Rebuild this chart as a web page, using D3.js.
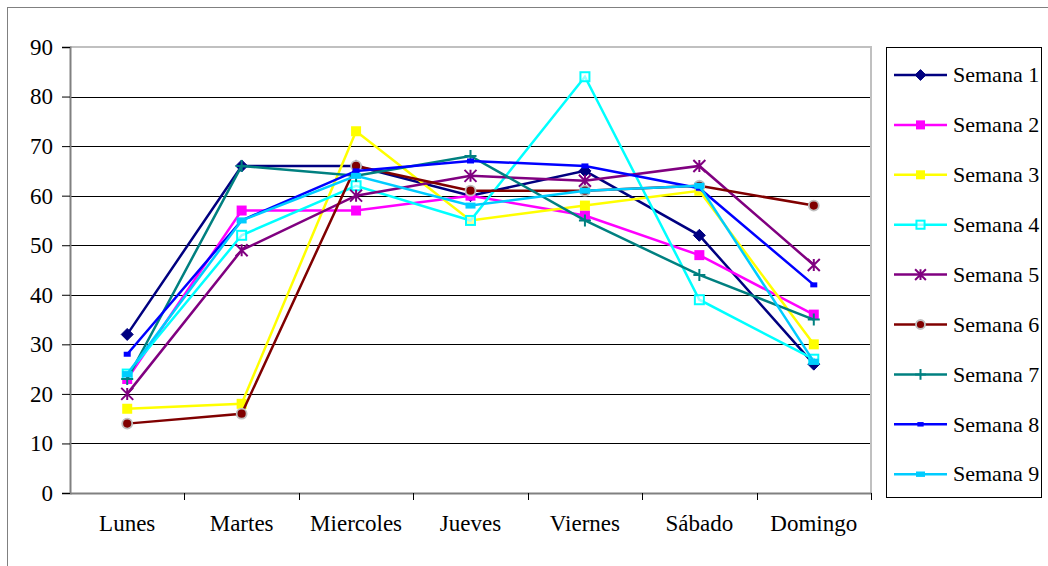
<!DOCTYPE html>
<html>
<head>
<meta charset="utf-8">
<script src="https://cdn.jsdelivr.net/npm/d3@7"></script>
<style>
  html, body { margin: 0; padding: 0; background: #fff; }
  svg { display: block; }
  svg text { font-family: "Liberation Serif", "Times New Roman", Tinos, Times, "DejaVu Serif", serif !important; fill: #000; }
</style>
</head>
<body>
<svg id="chart" width="1048" height="566"></svg>
<script>
const categories = ["Lunes", "Martes", "Miercoles", "Jueves", "Viernes", "Sábado", "Domingo"];
const yTicks = [0, 10, 20, 30, 40, 50, 60, 70, 80, 90];
const seriesNames = ["Semana 1", "Semana 2", "Semana 3", "Semana 4", "Semana 5", "Semana 6", "Semana 7", "Semana 8", "Semana 9"];
const semana1 = [32, 66, 66, 60, 65, 52, 26];
const semana2 = [23, 57, 57, 60, 56, 48, 36];
const semana3 = [17, 18, 73, 55, 58, 61, 30];
const semana4 = [24, 52, 62, 55, 84, 39, 27];
const semana5 = [20, 49, 60, 64, 63, 66, 46];
const semana6 = [14, 16, 66, 61, 61, 62, 58];
const semana7 = [23, 66, 64, 68, 55, 44, 35];
const semana8 = [28, 55, 65, 67, 66, 61.5, 42];
const semana9 = [24, 55, 64, 58, 61, 62, 26.5];
const seriesValues = [semana1, semana2, semana3, semana4, semana5, semana6, semana7, semana8, semana9];
const seriesColors = ["#000080", "#FF00FF", "#FFFF00", "#00FFFF", "#800080", "#800000", "#008080", "#0000FF", "#00CCFF"];
const seriesMarkers = ["diamond", "square", "square", "openSquare", "asterisk", "circle", "plus", "dash", "bar"];

const FONT = '"Liberation Serif", "Times New Roman", Tinos, Times, "DejaVu Serif", serif';
const svg = d3.select("#chart");

// outer chart border
svg.append("rect").attr("x", 7.5).attr("y", 7.5).attr("width", 1060).attr("height", 600)
  .attr("fill", "none").attr("stroke", "#808080").attr("stroke-width", 1);

const x = d3.scaleBand().domain(categories).range([70, 871]);
const y = d3.scaleLinear().domain([0, 90]).range([493, 47]);
const cx = c => x(c) + x.bandwidth() / 2;

// gridlines
svg.append("g").selectAll("line").data(yTicks.filter(v => v > 0 && v < 90)).join("line")
  .attr("x1", 70).attr("x2", 871)
  .attr("y1", d => Math.round(y(d)) + 0.5).attr("y2", d => Math.round(y(d)) + 0.5)
  .attr("stroke", "#000").attr("stroke-width", 1);

// plot-area border (top and right)
svg.append("line").attr("x1", 70).attr("x2", 872).attr("y1", y(90)).attr("y2", y(90))
  .attr("stroke", "#c0c0c0").attr("stroke-width", 2);
svg.append("line").attr("x1", 871).attr("x2", 871).attr("y1", y(90)).attr("y2", y(0))
  .attr("stroke", "#c0c0c0").attr("stroke-width", 2);

// y axis
const yAxis = svg.append("g").attr("transform", "translate(70,0)")
  .call(d3.axisLeft(y).tickValues(yTicks).tickSize(8).tickPadding(9).tickFormat(d3.format("d")))
  .attr("font-family", FONT).attr("font-size", 23);
yAxis.select(".domain").attr("stroke", "#808080").attr("stroke-width", 2);
yAxis.selectAll(".tick line").attr("stroke", "#000").attr("stroke-width", 1);

// x axis
const xAxis = svg.append("g").attr("transform", `translate(0,${y(0)})`)
  .call(d3.axisBottom(x).tickSize(0).tickPadding(22))
  .attr("font-family", FONT).attr("font-size", 23);
xAxis.select(".domain").attr("stroke", "#808080").attr("stroke-width", 2);
const bounds = categories.map(c => x(c)).concat([x.range()[1]]).slice(1);
xAxis.selectAll("line.bnd").data(bounds).join("line").attr("class", "bnd")
  .attr("x1", d => Math.round(d) + 0.5).attr("x2", d => Math.round(d) + 0.5)
  .attr("y1", 0).attr("y2", 7).attr("stroke", "#000").attr("stroke-width", 1);

// marker drawing
function drawMarker(g, type, color, px, py, scale) {
  const s = scale || 1;
  switch (type) {
    case "diamond":
      g.append("path").attr("d", `M${px},${py - 6 * s}L${px + 6 * s},${py}L${px},${py + 6 * s}L${px - 6 * s},${py}Z`)
        .attr("fill", color).attr("stroke", color).attr("stroke-width", 1);
      break;
    case "square":
      g.append("rect").attr("x", px - 5 * s).attr("y", py - 5 * s).attr("width", 10 * s).attr("height", 10 * s)
        .attr("fill", color);
      break;
    case "openSquare":
      g.append("rect").attr("x", px - 4.5 * s).attr("y", py - 4.5 * s).attr("width", 9 * s).attr("height", 9 * s)
        .attr("fill", "#fff").attr("fill-opacity", 0.6).attr("stroke", color).attr("stroke-width", 2);
      break;
    case "asterisk": {
      const r = 6 * s;
      g.append("path").attr("d",
        `M${px - r},${py - r}L${px + r},${py + r}M${px - r},${py + r}L${px + r},${py - r}M${px},${py - r}L${px},${py + r}`)
        .attr("stroke", color).attr("stroke-width", 2).attr("fill", "none");
      break;
    }
    case "circle":
      g.append("circle").attr("cx", px).attr("cy", py).attr("r", 5 * s)
        .attr("fill", color).attr("stroke", "#c0c0c0").attr("stroke-width", 1.8);
      break;
    case "plus": {
      const r = 6 * s;
      g.append("path").attr("d", `M${px - r},${py}L${px + r},${py}M${px},${py - r}L${px},${py + r}`)
        .attr("stroke", color).attr("stroke-width", 2).attr("fill", "none");
      break;
    }
    case "dash":
      g.append("rect").attr("x", px - 3.5 * s).attr("y", py - 2.5 * s).attr("width", 7 * s).attr("height", 5 * s)
        .attr("fill", color);
      break;
    case "bar":
      g.append("rect").attr("x", px - 5 * s).attr("y", py - 3 * s).attr("width", 10 * s).attr("height", 6 * s)
        .attr("fill", color);
      break;
  }
}

// series
const line = d3.line().x((d, i) => cx(categories[i])).y(d => y(d));
seriesValues.forEach((vals, si) => {
  const g = svg.append("g");
  g.append("path").datum(vals).attr("d", line)
    .attr("fill", "none").attr("stroke", seriesColors[si]).attr("stroke-width", 2.5);
  vals.forEach((v, i) => drawMarker(g, seriesMarkers[si], seriesColors[si], cx(categories[i]), y(v)));
});

// legend
const legend = svg.append("g");
legend.append("rect").attr("x", 886.5).attr("y", 47.5).attr("width", 155).attr("height", 450)
  .attr("fill", "#fff").attr("stroke", "#000").attr("stroke-width", 1);
seriesNames.forEach((name, i) => {
  const ly = 75 + i * 49.9;
  legend.append("line").attr("x1", 894).attr("x2", 947).attr("y1", ly).attr("y2", ly)
    .attr("stroke", seriesColors[i]).attr("stroke-width", 2.5);
  drawMarker(legend, seriesMarkers[i], seriesColors[i], 920.5, ly, 0.9);
  legend.append("text").attr("x", 953).attr("y", ly).attr("dy", "0.33em")
    .attr("font-family", FONT).attr("font-size", 22).text(name);
});
</script>
</body>
</html>
